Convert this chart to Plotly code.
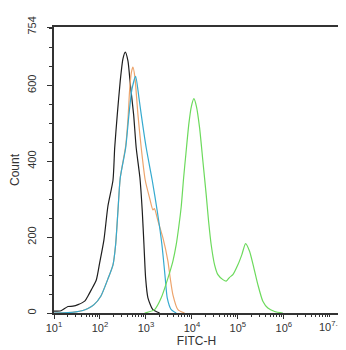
import plotly.graph_objects as go

# ---- data (FITC-H value, event count) ----
black_fitc = [10, 14.2, 20.1, 25.9, 33.3, 47.2, 54.8, 64.7, 83.2, 98.4, 122, 149, 192, 209, 238,
              276, 316, 355, 406, 460, 540, 615, 741, 832, 906, 985, 1105, 1418, 1986]
black_count = [5, 6, 17, 18, 22, 32, 45, 61, 87, 132, 193, 282, 350, 435, 523,
               612, 670, 688, 665, 600, 523, 435, 356, 269, 180, 92, 40, 9, 0]

cyan_fitc = [10, 20.1, 30.0, 40.6, 54.8, 74.1, 105, 149, 192, 219, 246, 276, 362, 427, 496,
             597, 705, 791, 1016, 1370, 1762, 2228, 2630, 2906, 3548, 4562]
cyan_count = [0, 1, 3, 6, 12, 22, 45, 90, 127, 180, 269, 356, 435, 523, 590,
              624, 567, 523, 435, 350, 269, 180, 92, 40, 9, 0]

orange_fitc = [10, 20.1, 30.0, 40.6, 54.8, 74.1, 105, 149, 192, 219, 246, 276, 362, 406, 443,
               484, 522, 577, 670, 791, 966, 1203, 1418, 1530, 1824, 2344, 3006, 3375, 3863,
               4963, 6939]
orange_count = [0, 1, 3, 6, 12, 22, 45, 90, 127, 180, 269, 356, 440, 510, 590,
                635, 648, 620, 523, 435, 350, 303, 272, 275, 243, 198, 137, 92, 48,
                9, 0]

green_fitc = [937, 1545, 2151, 3009, 3864, 4557, 5217, 5853, 6599, 7405, 8604, 9752, 11054,
              12525, 14704, 17345, 20460, 23070, 26280, 31150, 36750, 47200, 55680, 65990,
              77860, 100000, 122200, 147000, 179600, 222700, 272100, 349500, 448900, 627900,
              951000]
green_count = [0, 9, 40, 92, 137, 180, 230, 280, 356, 420, 500, 545, 565,
               545, 488, 400, 312, 242, 180, 127, 101, 88, 84, 94,
               101, 127, 154, 183, 163, 119, 75, 31, 13, 4,
               0]

x_tick_vals = [1e1, 1e2, 1e3, 1e4, 1e5, 1e6]
x_tick_text = ["10<sup>1</sup>", "10<sup>2</sup>", "10<sup>3</sup>", "10<sup>4</sup>",
               "10<sup>5</sup>", "10<sup>6</sup>"]
x_edge_label = "10<sup>7.2</sup>"
y_tick_vals = [0, 200, 400, 600, 754]
y_tick_text = ["0", "200", "400", "600", "754"]

minor_x = [m * 10 ** d for d in range(1, 8) for m in range(1, 10)
           if m * 10 ** d < 10 ** 7.2 and not (m == 1 and d < 7)]

fig = go.Figure()
series = [
    (black_fitc, black_count, "#1e1e1e"),
    (orange_fitc, orange_count, "#EDA46C"),
    (cyan_fitc, cyan_count, "#35AACF"),
    (green_fitc, green_count, "#6CDA5C"),
]
for xs, ys, col in series:
    fig.add_trace(go.Scatter(x=xs, y=ys, mode="lines",
                             line=dict(color=col, width=1.2, shape="spline", smoothing=0.6),
                             showlegend=False, hoverinfo="skip"))

font_family = "Liberation Sans, Arial, sans-serif"
fig.update_layout(
    width=346, height=350,
    margin=dict(l=46, r=15, t=19, b=45),
    paper_bgcolor="white", plot_bgcolor="white",
    font=dict(family=font_family, size=11, color="#333333"),
    xaxis=dict(
        type="log", range=[1, 7.2], automargin=False,
        tickmode="array", tickvals=x_tick_vals, ticktext=x_tick_text,
        ticks="outside", ticklen=4, tickwidth=1, tickcolor="#333333",
        minor=dict(tickmode="array", tickvals=minor_x, ticks="outside", ticklen=2.5,
                   tickcolor="#333333", showgrid=False),
        showline=True, linecolor="#333333", linewidth=1.5, mirror=True,
        showgrid=False, zeroline=False,
        title=dict(text="FITC-H", font=dict(size=12), standoff=4),
        tickfont=dict(size=11),
    ),
    yaxis=dict(
        range=[0, 754], automargin=False,
        tickmode="array", tickvals=y_tick_vals, ticktext=y_tick_text,
        ticks="outside", ticklen=5, tickwidth=1, tickcolor="#333333",
        minor=dict(tick0=0, dtick=50, ticks="outside", ticklen=3,
                   tickcolor="#333333", showgrid=False),
        tickangle=-90, ticklabelstandoff=7,
        showline=True, linecolor="#333333", linewidth=1.5, mirror=True,
        showgrid=False, zeroline=False,
        title=dict(text="Count", font=dict(size=12), standoff=10),
        tickfont=dict(size=11),
    ),
)

fig.add_annotation(text=x_edge_label, xref="paper", yref="paper",
                   x=1.0, xshift=5, y=0, yshift=-4, xanchor="right", yanchor="top",
                   showarrow=False, font=dict(size=11, color="#333333"))

fig.write_html("out.html")
